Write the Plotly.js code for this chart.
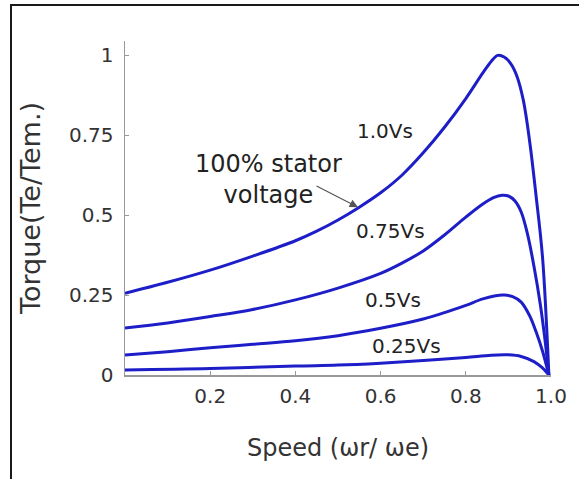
<!DOCTYPE html>
<html>
<head>
<meta charset="utf-8">
<script src="https://cdn.plot.ly/plotly-3.0.1.min.js"></script>
<style>
  html, body { margin: 0; padding: 0; background: #fff; }
  #wrap { position: relative; width: 579px; height: 479px; overflow: hidden; }
  #chart { width: 579px; height: 479px; }
  #frame { position: absolute; left: 10px; top: 4px; width: 700px; height: 700px;
           border-left: 2px solid #1a1a1a; border-top: 2px solid #1a1a1a; pointer-events: none; }
</style>
</head>
<body>
<div id="wrap">
  <div id="chart"></div>
  <div id="frame"></div>
</div>
<script>
// Speed (wr/we) and normalized torque for each stator voltage level
const speed100 = [0, 0.1, 0.2, 0.3, 0.4, 0.45, 0.5, 0.55, 0.6, 0.65, 0.7, 0.75, 0.8, 0.84, 0.86, 0.875, 0.89, 0.905, 0.92, 0.935, 0.95, 0.965, 0.98, 0.995];
const torque100 = [0.256, 0.29, 0.328, 0.372, 0.42, 0.45, 0.485, 0.525, 0.57, 0.625, 0.695, 0.775, 0.865, 0.945, 0.982, 1.0, 0.995, 0.975, 0.935, 0.86, 0.73, 0.56, 0.37, 0];

const speed75 = [0, 0.1, 0.2, 0.3, 0.4, 0.5, 0.6, 0.65, 0.7, 0.75, 0.8, 0.84, 0.865, 0.885, 0.9, 0.915, 0.93, 0.945, 0.96, 0.975, 0.985, 0.995];
const torque75 = [0.147, 0.163, 0.183, 0.205, 0.235, 0.272, 0.318, 0.35, 0.388, 0.438, 0.494, 0.535, 0.555, 0.5625, 0.56, 0.545, 0.51, 0.44, 0.34, 0.22, 0.12, 0];

const speed50 = [0, 0.1, 0.2, 0.3, 0.4, 0.5, 0.6, 0.7, 0.75, 0.8, 0.84, 0.87, 0.89, 0.91, 0.93, 0.95, 0.965, 0.98, 0.995];
const torque50 = [0.0625, 0.073, 0.085, 0.096, 0.107, 0.123, 0.146, 0.175, 0.195, 0.218, 0.238, 0.248, 0.25, 0.245, 0.228, 0.185, 0.135, 0.075, 0];

const speed25 = [0, 0.2, 0.4, 0.5, 0.6, 0.7, 0.8, 0.86, 0.9, 0.93, 0.96, 0.98, 0.995];
const torque25 = [0.016, 0.02, 0.028, 0.031, 0.037, 0.045, 0.055, 0.062, 0.063, 0.058, 0.042, 0.022, 0];

const seriesLabels = ["1.0Vs", "0.75Vs", "0.5Vs", "0.25Vs"];
const xTickVals = [0.2, 0.4, 0.6, 0.8, 1.0];
const xTickText = ["0.2", "0.4", "0.6", "0.8", "1.0"];
const yTickVals = [0, 0.25, 0.5, 0.75, 1];
const yTickText = ["0", "0.25", "0.5", "0.75", "1"];

const lineColor = "#1e1ec8";
const font = "DejaVu Sans";

function trace(x, y, name) {
  return { x: x, y: y, name: name, type: "scatter", mode: "lines",
           line: { color: lineColor, width: 3, shape: "spline", smoothing: 1 },
           hoverinfo: "skip" };
}

const data = [
  trace(speed100, torque100, seriesLabels[0]),
  trace(speed75, torque75, seriesLabels[1]),
  trace(speed50, torque50, seriesLabels[2]),
  trace(speed25, torque25, seriesLabels[3])
];

const txt = { family: font, size: 20, color: "#222" };

const layout = {
  width: 579, height: 479,
  margin: { l: 125, r: 19, t: 41, b: 104 },
  paper_bgcolor: "#fff", plot_bgcolor: "#fff",
  showlegend: false,
  font: { family: font, color: "#222" },
  xaxis: {
    range: [0, 1.0], showgrid: false, zeroline: false,
    showline: true, linecolor: "#999", linewidth: 1.5,
    ticks: "inside", ticklen: 4, tickcolor: "#999",
    tickvals: xTickVals, ticktext: xTickText,
    tickfont: { family: font, size: 20, color: "#333" },
    ticklabelstandoff: 2,
    automargin: true,
    title: { text: "Speed (ωr/ ωe)", font: { family: font, size: 24, color: "#333" }, standoff: 32 }
  },
  yaxis: {
    range: [0, 1.045], showgrid: false, zeroline: false,
    showline: true, linecolor: "#999", linewidth: 1.5,
    ticks: "inside", ticklen: 4, tickcolor: "#999",
    tickvals: yTickVals, ticktext: yTickText,
    tickfont: { family: font, size: 20, color: "#333" },
    ticklabelstandoff: 6,
    automargin: true,
    title: { text: "Torque(Te/Tem.)", font: { family: font, size: 27, color: "#333" }, standoff: 20 }
  },
  annotations: [
    { x: 0.61, y: 0.762, xref: "x", yref: "y", text: seriesLabels[0], showarrow: false, font: txt },
    { x: 0.623, y: 0.45, xref: "x", yref: "y", text: seriesLabels[1], showarrow: false, font: txt },
    { x: 0.630, y: 0.234, xref: "x", yref: "y", text: seriesLabels[2], showarrow: false, font: txt },
    { x: 0.660, y: 0.0906, xref: "x", yref: "y", text: seriesLabels[3], showarrow: false, font: txt },
    { x: 0.336, y: 0.6125, xref: "x", yref: "y", text: "100% stator<br>voltage", showarrow: false,
      align: "center", font: { family: font, size: 24, color: "#222" } },
    { x: 0.547, y: 0.525, xref: "x", yref: "y", text: "", showarrow: true,
      ax: -43, ay: -22, arrowcolor: "#555", arrowwidth: 1.2, arrowhead: 2, arrowsize: 1.4 }
  ]
};

Plotly.newPlot("chart", data, layout, { staticPlot: true, displayModeBar: false });
</script>
</body>
</html>
